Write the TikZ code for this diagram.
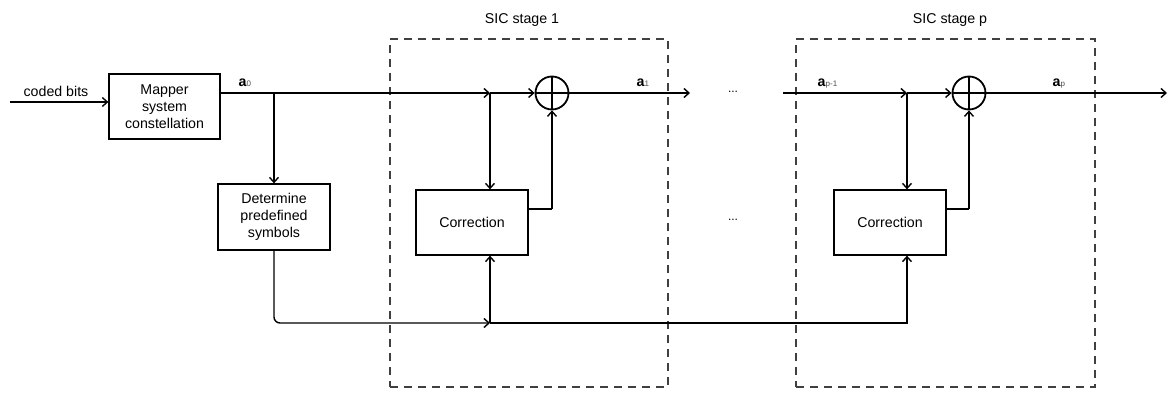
\documentclass[tikz,border=0pt]{standalone}
\usepackage{fontspec}
\setmainfont{Liberation Sans}
\usetikzlibrary{arrows.meta}
\begin{document}
\begin{tikzpicture}[x=1pt,y=-1pt,
  line width=1.4pt,
  >={Straight Barb[length=5pt,width=9pt,line width=1.4pt]},
  every node/.style={font=\fontsize{14.2}{16.7}\selectfont},
  blockbox/.style={draw, line width=1.3pt, align=center, inner sep=0pt, minimum width=112pt, minimum height=65pt},
  stagebox/.style={draw=black!75, dash pattern=on 8pt off 6pt, line width=1.4pt, inner sep=0pt},
  adder/.style={circle, draw, line width=1.8pt, minimum size=33pt, inner sep=0pt},
  sig/.style={inner sep=0pt, anchor=base west},
  dots/.style={inner sep=0pt, font=\fontsize{12}{12}\selectfont}
]
\useasboundingbox (0,0) rectangle (1168,396);

% stage boxes
\node[stagebox, minimum width=278pt, minimum height=348pt] (stage1) at (529,213) {};
\node[stagebox, minimum width=299pt, minimum height=348pt] (stagep) at (945.5,213) {};
\node (stage1lbl) at (522,20) {SIC stage 1};
\node (stageplbl) at (950,20) {SIC stage p};

% blocks
\node[blockbox, minimum width=111pt] (mapper) at (164.5,106.5) {Mapper\\system\\constellation};
\node[blockbox, minimum height=66pt] (determine) at (274,217) {Determine\\predefined\\symbols};
\node[blockbox] (corr1) at (472,222.5) {Correction};
\node[blockbox] (corrp) at (890,222.5) {Correction};
\node[adder] (add1) at (552,93) {};
\node[adder] (addp) at (969,93) {};
\draw[line width=1.4pt] (add1.north) -- (add1.south) (add1.west) -- (add1.east);
\draw[line width=1.4pt] (addp.north) -- (addp.south) (addp.west) -- (addp.east);

% coordinates
\coordinate (in) at (10,102);
\coordinate (m0) at (220,93);
\coordinate (t0) at (274,93);
\coordinate (j1) at (490,93);
\coordinate (o1) at (690,93);
\coordinate (ip) at (783,93);
\coordinate (jp) at (907,93);
\coordinate (op) at (1167,93);
\coordinate (b0) at (274,323);
\coordinate (b1) at (490,323);
\coordinate (bp) at (907,323);
\coordinate (c1r) at (528,209);
\coordinate (c1u) at (552,209);
\coordinate (cpr) at (946,209);
\coordinate (cpu) at (969,209);

% labels
\node (codedbits) at (56,91) {coded bits};
\node[sig] (a0) at (238,87) {\textbf{a}{\fontsize{8}{8}\selectfont\color{black!70}0}};
\node[sig] (a1) at (636,87) {\textbf{a}{\fontsize{8}{8}\selectfont\color{black!70}1}};
\node[sig] (apm) at (817,87) {\textbf{a}{\fontsize{8}{8}\selectfont\color{black!70}p-1}};
\node[sig] (ap) at (1052,87) {\textbf{a}{\fontsize{8}{8}\selectfont\color{black!70}p}};
\node[dots] (dots1) at (733,92) {...};
\node[dots] (dots2) at (733,220) {...};

% connectors
\draw[->] (in) -- (in -| mapper.west);
\draw (m0) -- (t0);
\draw[->] (t0) -- (determine.north);
\draw[->] (t0) -- (j1);
\draw[->] (j1) -- (add1.west);
\draw[->] (j1) -- (j1 |- corr1.north);
\draw (c1r) -- (c1u);
\draw[->] (c1u) -- (add1.south);
\draw[->] (add1.east) -- (o1);

\draw[->] (ip) -- (jp);
\draw[->] (jp) -- (addp.west);
\draw[->] (jp) -- (jp |- corrp.north);
\draw (cpr) -- (cpu);
\draw[->] (cpu) -- (addp.south);
\draw[->] (addp.east) -- (op);

\draw[->, rounded corners=6pt] (determine.south) -- (b0) -- (b1);
\draw[->] (b1) -- (b1 |- corr1.south);
\draw[->] (b1) -- (bp) -- (bp |- corrp.south);
\end{tikzpicture}
\end{document}
